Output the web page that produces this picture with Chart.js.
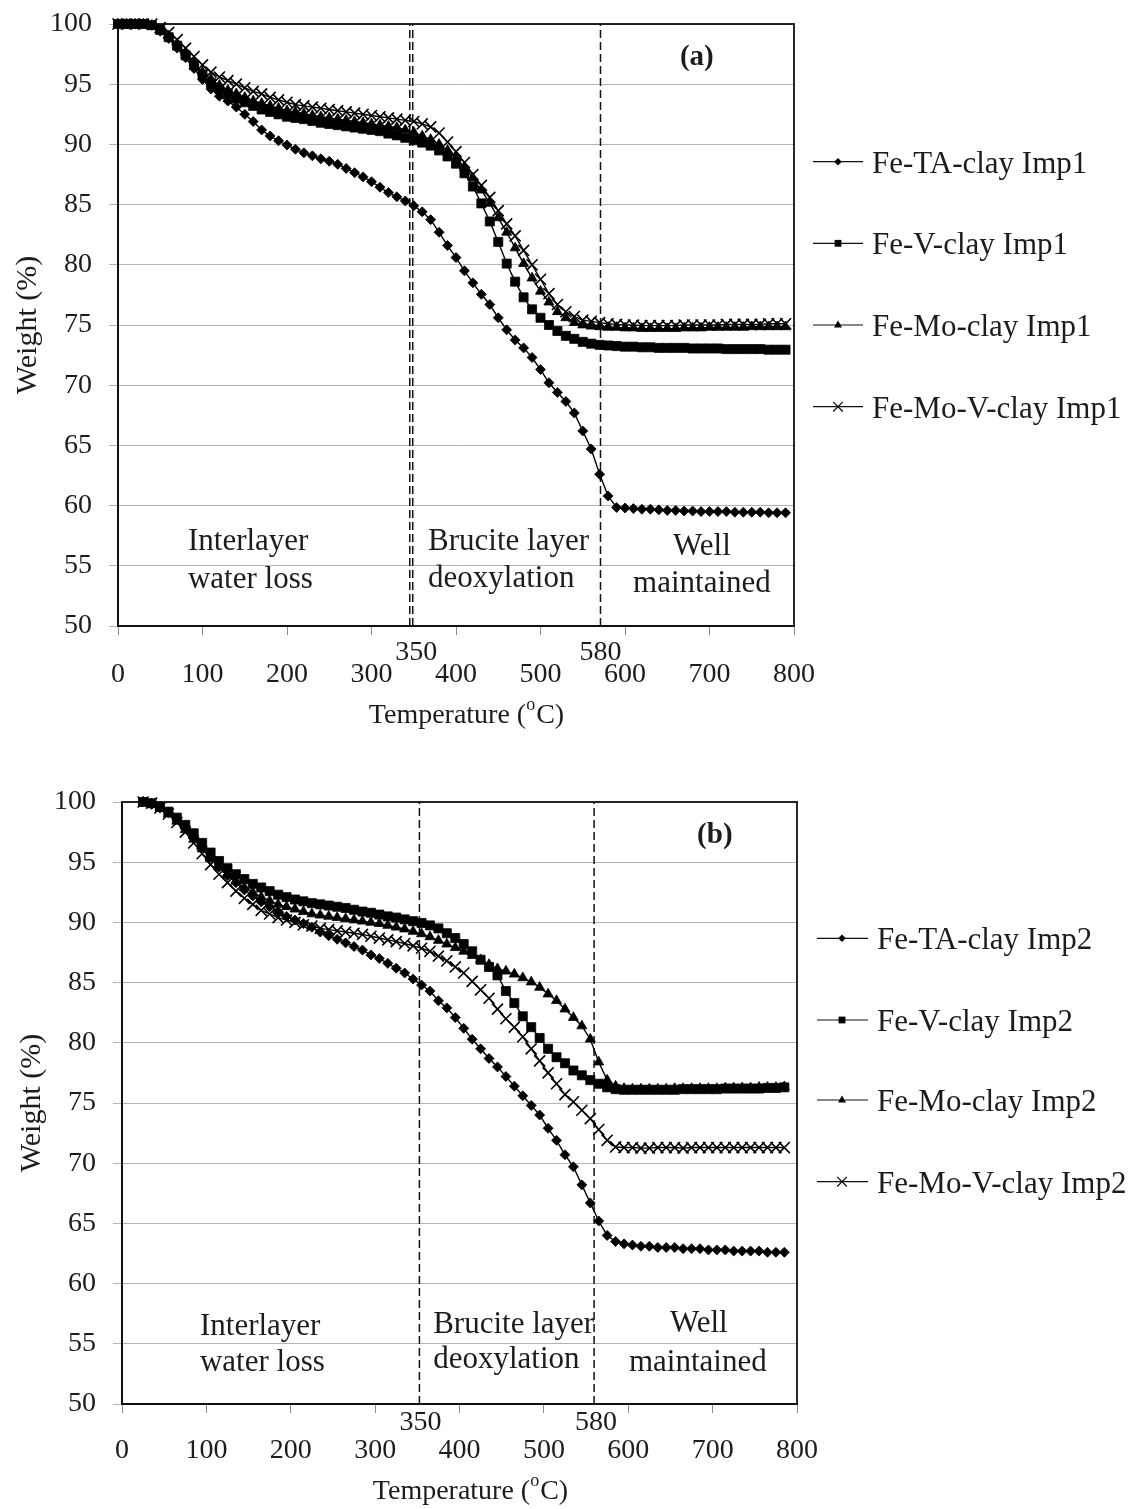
<!DOCTYPE html>
<html><head><meta charset="utf-8">
<script src="https://cdn.jsdelivr.net/npm/chart.js@4.4.1/dist/chart.umd.min.js"></script>
<style>
html,body{margin:0;padding:0;background:#fff;}
body{width:1130px;height:1509px;position:relative;overflow:hidden;}
canvas{position:absolute;left:0;}
#ca{top:0;}
#cb{top:760px;}
</style></head><body>
<canvas id="ca" width="1130" height="740"></canvas>
<canvas id="cb" width="1130" height="749"></canvas>
<script>
// ---------------- DATA ----------------
const tempA = [0,10,20,30,40,50,60,70,80,90,100,110,120,130,140,150,160,170,180,190,200,210,220,230,240,250,260,270,280,290,300,310,320,330,340,350,360,370,380,390,400,410,420,430,440,450,460,470,480,490,500,510,520,530,540,550,560,570,580,590,600,610,620,630,640,650,660,670,680,690,700,710,720,730,740,750,760,770,780,790];
const taA  = [100,100,100,100,99.9,99.4,98.8,98.0,97.2,96.3, 95.4,94.6,94.0,93.6,93.1,92.5,91.9,91.2,90.7,90.3, 89.95,89.6,89.3,89.05,88.8,88.6,88.35,88.0,87.65,87.3, 86.9,86.45,86.0,85.65,85.3,84.9,84.4,83.75,82.7,81.6, 80.6,79.5,78.5,77.55,76.7,75.6,74.6,73.75,73.1,72.3, 71.3,70.2,69.4,68.65,67.7,66.2,64.7,62.6,60.8,59.85, 59.8,59.75,59.7,59.7,59.65,59.6,59.6,59.55,59.55,59.5, 59.5,59.5,59.5,59.45,59.45,59.45,59.45,59.4,59.4,59.4];
const vA   = [100,100,100,100,99.9,99.5,98.9,98.2,97.4,96.6, 95.8,95.1,94.6,94.2,93.8,93.5,93.2,92.9,92.7,92.5, 92.3,92.2,92.1,91.95,91.8,91.7,91.6,91.5,91.4,91.3, 91.2,91.1,90.9,90.75,90.55,90.35,90.15,89.9,89.5,89.0, 88.4,87.6,86.5,85.1,83.6,81.9,80.1,78.6,77.3,76.3, 75.6,75.0,74.5,74.1,73.85,73.6,73.45,73.35,73.3,73.25, 73.2,73.2,73.15,73.15,73.1,73.1,73.1,73.1,73.05,73.05, 73.05,73.05,73.0,73.0,73.0,73.0,73.0,72.95,72.95,72.95];
const moA  = [100,100,100,100,99.9,99.5,99.0,98.3,97.6,96.8, 96.0,95.4,94.9,94.5,94.2,93.9,93.6,93.4,93.2,93.0, 92.8,92.7,92.55,92.4,92.3,92.2,92.1,92.0,91.9,91.8, 91.7,91.6,91.5,91.4,91.2,91.0,90.7,90.4,90.0,89.5, 88.9,88.1,87.2,86.2,85.1,83.9,82.7,81.4,80.1,78.9, 77.8,76.9,76.1,75.6,75.2,75.0,74.9,74.85,74.8,74.8, 74.75,74.75,74.7,74.7,74.7,74.7,74.7,74.75,74.75,74.75, 74.8,74.8,74.8,74.8,74.8,74.85,74.85,74.85,74.85,74.85];
const movA = [100,100,100,100,100,99.7,99.3,98.7,98.0,97.3, 96.6,96.0,95.6,95.3,95.0,94.7,94.4,94.2,93.9,93.7, 93.5,93.3,93.2,93.1,93.0,92.9,92.8,92.7,92.6,92.5, 92.4,92.3,92.2,92.1,92.0,91.9,91.7,91.45,90.95,90.2, 89.4,88.5,87.5,86.6,85.6,84.5,83.4,82.4,81.2,80.0, 78.8,77.6,76.7,76.1,75.7,75.4,75.3,75.2,75.1,75.05, 75.0,75.0,74.95,74.95,74.95,74.95,74.95,75.0,75.0,75.0, 75.0,75.0,75.05,75.05,75.05,75.05,75.05,75.1,75.1,75.1];

const tempB = [25,35,45,55,65,75,85,95,105,115,125,135,145,155,165,175,185,195,205,215,225,235,245,255,265,275,285,295,305,315,325,335,345,355,365,375,385,395,405,415,425,435,445,455,465,475,485,495,505,515,525,535,545,555,565,575,585,595,605,615,625,635,645,655,665,675,685,695,705,715,725,735,745,755,765,775,785];
const taB  = [100,99.8,99.5,99.1,98.6,98.0,97.2,96.3,95.4,94.6, 93.9,93.3,92.7,92.2,91.7,91.3,90.9,90.5,90.2,89.9, 89.6,89.2,88.9,88.6,88.3,88.0,87.7,87.3,87.0,86.6, 86.2,85.8,85.3,84.8,84.3,83.5,82.9,82.1,81.2,80.3, 79.5,78.7,78.0,77.2,76.4,75.6,74.8,74.0,72.9,71.9, 70.7,69.7,68.2,66.7,65.2,64.0,63.5,63.3,63.2,63.1, 63.1,63.0,63.0,63.0,62.9,62.9,62.9,62.8,62.8,62.8, 62.7,62.7,62.7,62.7,62.6,62.6,62.6];
const vB   = [100,99.9,99.6,99.2,98.7,98.1,97.4,96.6,95.8,95.1, 94.5,94.0,93.6,93.2,92.9,92.6,92.3,92.1,91.9,91.75, 91.6,91.5,91.4,91.3,91.2,91.05,90.9,90.8,90.65,90.5, 90.4,90.25,90.1,89.95,89.75,89.5,89.1,88.7,88.2,87.6, 86.9,86.3,85.6,84.3,83.3,82.2,81.3,80.4,79.5,78.8, 78.3,77.7,77.3,76.9,76.6,76.3,76.15,76.1,76.1,76.1, 76.1,76.1,76.1,76.1,76.15,76.15,76.15,76.15,76.15,76.2, 76.2,76.2,76.2,76.2,76.25,76.25,76.3];
const moB  = [100,99.8,99.5,99.0,98.4,97.7,96.9,96.1,95.3,94.6, 94.0,93.4,92.9,92.5,92.1,91.8,91.5,91.3,91.1,90.9, 90.7,90.6,90.5,90.4,90.3,90.2,90.1,90.0,89.9,89.75, 89.6,89.45,89.25,89.05,88.8,88.5,88.2,87.9,87.6,87.25, 86.9,86.5,86.15,85.95,85.7,85.4,85.05,84.6,84.05,83.5, 82.8,82.1,81.4,80.3,78.4,76.9,76.4,76.2,76.15,76.15, 76.15,76.15,76.15,76.2,76.2,76.2,76.2,76.2,76.2,76.25, 76.25,76.25,76.25,76.3,76.3,76.3,76.35];
const movB = [100,99.9,99.5,99.0,98.3,97.5,96.6,95.7,94.8,94.0, 93.3,92.6,92.0,91.5,91.0,90.7,90.4,90.2,90.0,89.8, 89.7,89.5,89.4,89.3,89.2,89.1,89.0,88.85,88.7,88.55, 88.4,88.25,88.05,87.85,87.6,87.2,86.8,86.3,85.8,85.1, 84.4,83.7,82.8,82.0,81.3,80.5,79.5,78.5,77.5,76.6, 75.7,75.1,74.4,73.7,72.8,71.9,71.35,71.3,71.3,71.25, 71.25,71.3,71.3,71.3,71.25,71.3,71.3,71.3,71.3,71.3, 71.3,71.3,71.3,71.3,71.3,71.3,71.3];

const namesA = ['Fe-TA-clay Imp1','Fe-V-clay Imp1','Fe-Mo-clay Imp1','Fe-Mo-V-clay Imp1'];
const namesB = ['Fe-TA-clay Imp2','Fe-V-clay Imp2','Fe-Mo-clay Imp2','Fe-Mo-V-clay Imp2'];
const phaseA = [345.3, 348.8, 571];
const phaseB = [352.5, 559.5];
const phaseTickLabels = ['350','580'];
const regionText = [['Interlayer','water loss'],['Brucite layer','deoxylation'],['Well','maintained']];
const yTicks = [50,55,60,65,70,75,80,85,90,95,100];
const xTicks = [0,100,200,300,400,500,600,700,800];

// ---------------- STYLE ----------------
const FONT = "'Liberation Serif','Times New Roman',serif";
const INK = '#1c1c1c';
const markerStyles = [
  {pointStyle:'rectRot', r:5.0, lr:3.8, bw:0.8},
  {pointStyle:'rect', r:6.4, lr:3.4, bw:0.8},
  {pointStyle:'triangle', r:5.8, lr:4.4, bw:0.8},
  {pointStyle:'crossRot', r:7.8, lr:4.8, bw:1.6}
];

function buildDatasets(xs, seriesList, names, phases){
  const ds = seriesList.map((ys,i)=>({
    label:names[i],
    data: xs.map((x,k)=>({x:x,y:ys[k]})),
    borderColor:'#000', backgroundColor:'#000', borderWidth:1.4,
    pointBackgroundColor:'#000', pointBorderColor:'#000',
    pointBorderWidth: markerStyles[i].bw,
    pointStyle: markerStyles[i].pointStyle,
    pointRadius: markerStyles[i].r, pointHoverRadius: markerStyles[i].r,
    tension:0, clip:false
  }));
  phases.forEach(p=>ds.push({
    label:'', data:[{x:p,y:50},{x:p,y:100}], borderColor:'#111', borderWidth:1.5,
    borderDash:[8,4], pointRadius:0, pointHoverRadius:0, tension:0
  }));
  return ds;
}

function drawLegendMarker(ctx, style, x, y, r){
  ctx.beginPath();
  if(style==='rectRot'){ctx.moveTo(x-r,y);ctx.lineTo(x,y-r);ctx.lineTo(x+r,y);ctx.lineTo(x,y+r);ctx.closePath();ctx.fill();}
  else if(style==='rect'){ctx.rect(x-r,y-r,2*r,2*r);ctx.fill();}
  else if(style==='triangle'){ctx.moveTo(x,y-r);ctx.lineTo(x+r*0.9,y+r*0.55);ctx.lineTo(x-r*0.9,y+r*0.55);ctx.closePath();ctx.fill();}
  else {ctx.moveTo(x-r,y-r);ctx.lineTo(x+r,y+r);ctx.moveTo(x+r,y-r);ctx.lineTo(x-r,y+r);ctx.stroke();}
}

const decorPlugin = {
  id:'decor',
  beforeDatasetsDraw(chart){
    const {ctx, chartArea:ca} = chart;
    ctx.save();
    ctx.strokeStyle='#111'; ctx.lineWidth=1.8;
    ctx.strokeRect(ca.left, ca.top, ca.right-ca.left, ca.bottom-ca.top);
    ctx.restore();
  },
  afterDraw(chart, args, o){
    const {ctx, chartArea:ca, scales:{x,y}} = chart;
    ctx.save();
    ctx.fillStyle=INK;
    ctx.font='bold 29px '+FONT; ctx.textAlign='center'; ctx.textBaseline='middle';
    ctx.fillText(o.panel.text, x.getPixelForValue(o.panel.x), y.getPixelForValue(o.panel.y));
    ctx.font='31px '+FONT; ctx.textBaseline='alphabetic';
    o.regions.forEach(r=>{
      ctx.textAlign=r.align;
      ctx.fillText(r.text, x.getPixelForValue(r.x), y.getPixelForValue(r.y));
    });
    ctx.font='28px '+FONT; ctx.textAlign='center';
    o.phaseLabels.forEach(p=>{
      ctx.fillText(p.text, x.getPixelForValue(p.x)+p.dx, ca.bottom+p.dy);
    });
    ctx.textBaseline='middle'; ctx.textAlign='left';
    const f1='28px '+FONT, f2='18px '+FONT;
    ctx.font=f1; const w1=ctx.measureText('Temperature (').width; const w3=ctx.measureText('C)').width;
    ctx.font=f2; const w2=ctx.measureText('o').width+1;
    let sx = o.xTitle.cx - (w1+w2+w3)/2;
    ctx.font=f1; ctx.fillText('Temperature (', sx, o.xTitle.cy);
    ctx.font=f2; ctx.fillText('o', sx+w1, o.xTitle.cy-11);
    ctx.font=f1; ctx.fillText('C)', sx+w1+w2, o.xTitle.cy);
    const L=o.legend;
    chart.data.datasets.forEach((d,i)=>{
      if(!d.label) return;
      const yy=L.rows[i];
      ctx.strokeStyle='#111'; ctx.lineWidth=1.2;
      ctx.beginPath(); ctx.moveTo(L.x1,yy); ctx.lineTo(L.x2,yy); ctx.stroke();
      ctx.fillStyle='#000'; ctx.lineWidth=1.3;
      drawLegendMarker(ctx, markerStyles[i].pointStyle, L.xm, yy, markerStyles[i].lr);
      ctx.fillStyle=INK; ctx.font='31px '+FONT; ctx.textAlign='left'; ctx.textBaseline='alphabetic';
      ctx.fillText(d.label, L.xt, yy+11);
    });
    ctx.restore();
  }
};

function makeChart(id, xs, series, names, phases, lay){
  return new Chart(document.getElementById(id), {
    type:'line',
    data:{datasets: buildDatasets(xs, series, names, phases)},
    options:{
      responsive:false, animation:false, devicePixelRatio:1,
      events:[],
      layout:{padding:{left:0, right:lay.padRight, top:lay.padTop, bottom:0}},
      plugins:{legend:{display:false}, tooltip:{enabled:false}, decor:lay.decor},
      scales:{
        x:{type:'linear', min:0, max:800,
          afterFit:s=>{s.height=lay.xh; s.paddingLeft=0; s.paddingRight=0;},
          afterBuildTicks:s=>{s.ticks=xTicks.map(v=>({value:v}));},
          ticks:{font:{family:FONT,size:28}, color:INK, padding:lay.xPad, maxRotation:0, autoSkip:false},
          grid:{drawOnChartArea:false, drawTicks:true, tickLength:9, color:'#8a8a8a', lineWidth:1},
          border:{color:'#111', width:2}
        },
        y:{type:'linear', min:50, max:100,
          afterFit:s=>{s.width=lay.yw; s.paddingTop=0; s.paddingBottom=0;},
          afterBuildTicks:s=>{s.ticks=yTicks.map(v=>({value:v}));},
          ticks:{font:{family:FONT,size:28}, color:INK, padding:17, autoSkip:false},
          grid:{color:'#b4b4b4', lineWidth:1, drawTicks:true, tickLength:9},
          border:{color:'#111', width:2},
          title:{display:true, text:'Weight (%)', font:{family:FONT,size:30}, color:INK, padding:{top:lay.yTitlePad,bottom:0}}
        }
      }
    },
    plugins:[decorPlugin]
  });
}

makeChart('ca', tempA, [taA,vA,moA,movA], namesA, phaseA, {
  padRight:336, padTop:24, xh:114, yw:118, xPad:23, yTitlePad:10.5,
  decor:{
    panel:{text:'(a)', x:685, y:97.2},
    regions:[
      {text:regionText[0][0], x:82.8, y:56.3, align:'left'},
      {text:regionText[0][1], x:82.8, y:53.15, align:'left'},
      {text:regionText[1][0], x:366.9, y:56.3, align:'left'},
      {text:regionText[1][1], x:366.9, y:53.25, align:'left'},
      {text:regionText[2][0], x:691, y:55.9, align:'center'},
      {text:regionText[2][1], x:691, y:52.8, align:'center'}
    ],
    phaseLabels:[{text:phaseTickLabels[0], x:347, dx:5, dy:34},{text:phaseTickLabels[1], x:571, dx:0, dy:34}],
    xTitle:{cx:466.5, cy:716},
    legend:{x1:813, x2:863, xm:838, xt:872, rows:[161.7,243.3,325,406.7]}
  }
});

makeChart('cb', tempB, [taB,vB,moB,movB], namesB, phaseB, {
  padRight:333, padTop:42, xh:105, yw:122, xPad:21, yTitlePad:14,
  decor:{
    panel:{text:'(b)', x:702.6, y:97.2},
    regions:[
      {text:regionText[0][0], x:92.4, y:55.77, align:'left'},
      {text:regionText[0][1], x:92.4, y:52.7, align:'left'},
      {text:regionText[1][0], x:368.8, y:55.9, align:'left'},
      {text:regionText[1][1], x:368.8, y:53.0, align:'left'},
      {text:regionText[2][0], x:683.6, y:55.94, align:'center'},
      {text:regionText[2][1], x:682.5, y:52.72, align:'center'}
    ],
    phaseLabels:[{text:phaseTickLabels[0], x:352.5, dx:1, dy:26},{text:phaseTickLabels[1], x:559.5, dx:2, dy:26}],
    xTitle:{cx:470.5, cy:732},
    legend:{x1:817, x2:868, xm:842, xt:877, rows:[178.3,260,340,421.7]}
  }
});
</script>
</body></html>
